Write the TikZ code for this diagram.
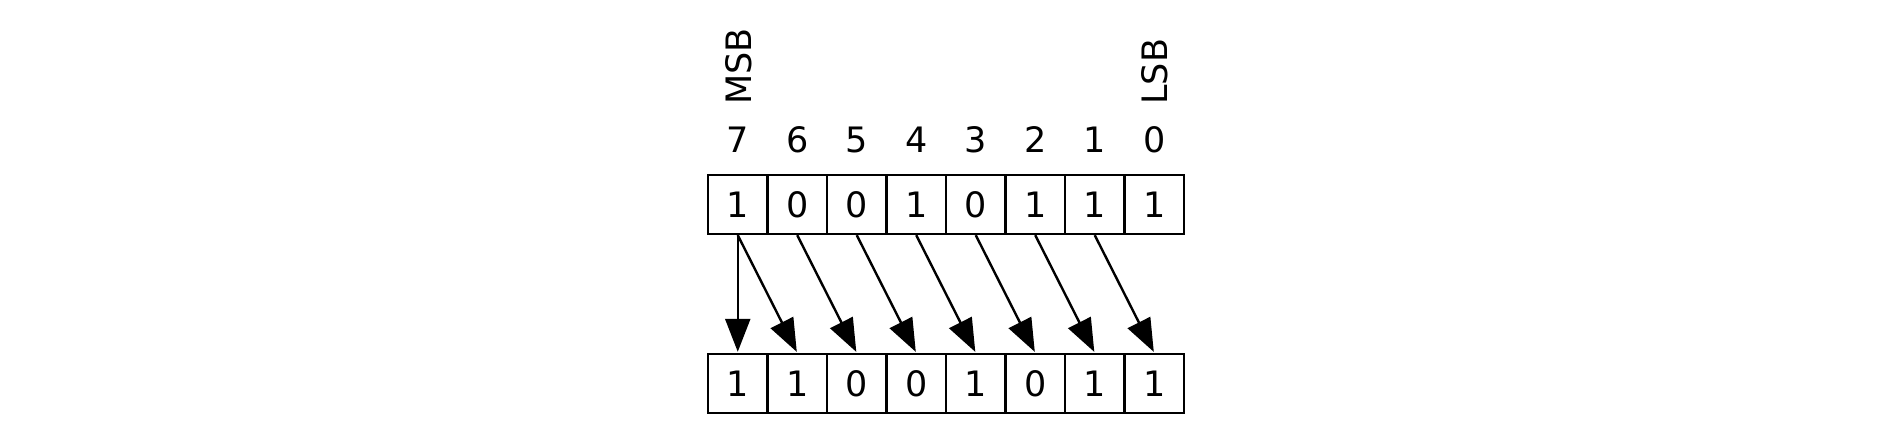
\documentclass[tikz,border=0pt]{standalone}
\usepackage{fontspec}
\setmainfont{DejaVu Sans}
\usetikzlibrary{positioning,arrows.meta}

\begin{document}
\begin{tikzpicture}[
  x=0.5pt, y=0.5pt,
  font=\fontsize{17.5}{20}\selectfont,
  bitcell/.style={draw, line width=1.2pt, minimum width=29.75pt, minimum height=29.5pt, inner sep=0pt},
  idx/.style={inner sep=0pt},
  tag/.style={rotate=90, anchor=west, inner sep=0pt},
  arr/.style={-{Triangle[length=16.5pt,width=12.5pt]}, line width=1.2pt, shorten >=0.5pt}
]
\useasboundingbox (0,0) rectangle (1884,434);

% register before the shift
\foreach \i/\v [count=\k from 0] in {7/1,6/0,5/0,4/1,3/0,2/1,1/1,0/1}
  \node[bitcell] (t\i) at ({737.75+59.5*\k}, 229.5) {\v};

% register after the shift
\foreach \i/\v [count=\k from 0] in {7/1,6/1,5/0,4/0,3/1,2/0,1/1,0/1}
  \node[bitcell] (b\i) at ({737.75+59.5*\k}, 50.5) {\v};

% bit numbers
\foreach \i in {7,...,0}
  \node[idx, above=10.2pt of t\i] (n\i) {\i};

\node[tag] (msb) at (739, 329) {MSB};
\node[tag] (lsb) at (1154.25, 329) {LSB};

% sign bit is kept, the rest move one place right
\draw[arr] (t7.south) -- (b7.north);
\foreach \i/\j in {7/6,6/5,5/4,4/3,3/2,2/1,1/0}
  \draw[arr] (t\i.south) -- (b\j.north);
\end{tikzpicture}
\end{document}
